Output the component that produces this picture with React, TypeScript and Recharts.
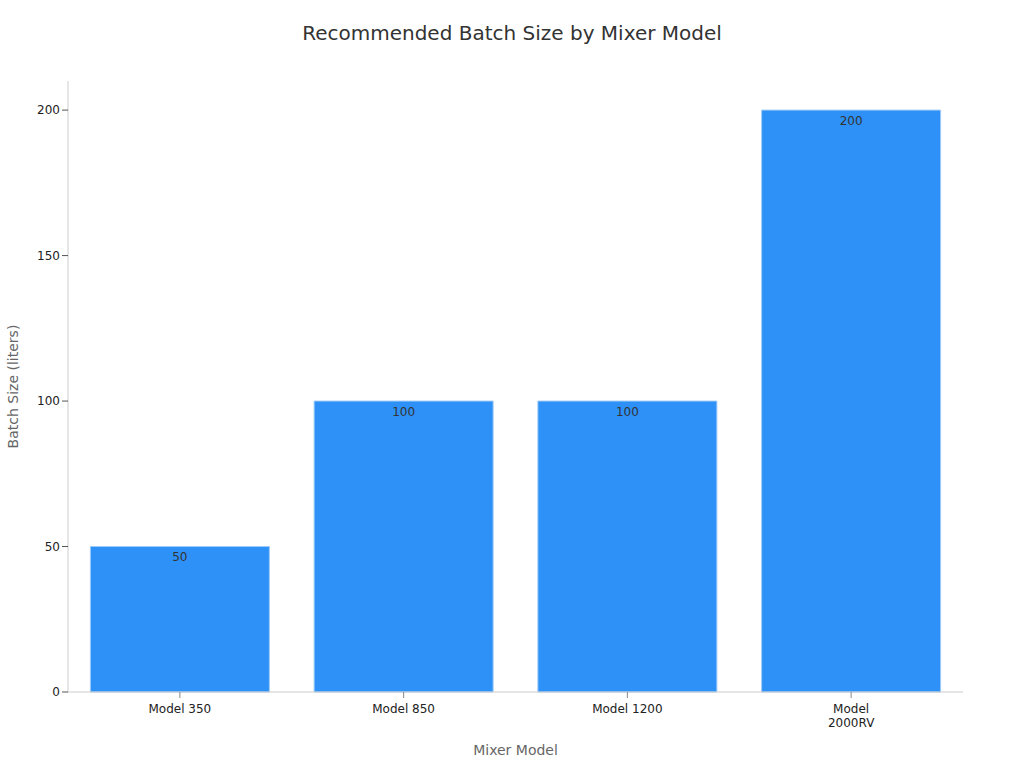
import React from 'react';
import { BarChart, Bar, XAxis, YAxis, LabelList, Label } from 'recharts';

const models = ['Model 350', 'Model 850', 'Model 1200', 'Model 2000RV'];
const batchSizes = [50, 100, 100, 200];
const yTicks = [0, 50, 100, 150, 200];

const data = models.map((name, i) => ({ name, value: batchSizes[i] }));

const FONT = '"DejaVu Sans", sans-serif';

// wraps long category names onto two lines like the reference
const CategoryTick = ({ x, y, payload }: any) => {
  const text: string = payload.value;
  const lines = text.length > 10 ? text.split(' ') : [text];
  return (
    <text x={x} y={y + 4} textAnchor="middle" fill="#222" fontSize={12} fontFamily={FONT}>
      {lines.map((line, i) => (
        <tspan key={i} x={x} dy={i === 0 ? '0.71em' : '1.2em'}>
          {line}
        </tspan>
      ))}
    </text>
  );
};

export default function App() {
  return (
    <div style={{ position: 'absolute', left: 0, top: 0, width: 1024, height: 768, background: '#fff', fontFamily: FONT }}>
      <div
        style={{
          position: 'absolute',
          top: 21,
          left: 0,
          width: 1024,
          textAlign: 'center',
          fontSize: 20,
          color: '#333',
        }}
      >
        Recommended Batch Size by Mixer Model
      </div>
      <BarChart
        width={1024}
        height={768}
        data={data}
        margin={{ top: 81, right: 61, bottom: 6, left: 0 }}
        barCategoryGap="10%"
      >
        <XAxis
          dataKey="name"
          height={70}
          tick={<CategoryTick />}
          tickLine={{ stroke: '#888' }}
          axisLine={{ stroke: '#ccc' }}
        >
          <Label value="Mixer Model" position="insideBottom" offset={7} fill="#666" fontSize={14} fontFamily={FONT} />
        </XAxis>
        <YAxis
          width={68}
          domain={[0, 210]}
          ticks={yTicks}
          tick={{ fill: '#222', fontSize: 12, fontFamily: FONT }}
          tickLine={{ stroke: '#555' }}
          axisLine={{ stroke: '#ccc' }}
        >
          <Label
            value="Batch Size (liters)"
            angle={-90}
            position="insideLeft"
            offset={13}
            fill="#666"
            fontSize={14}
            fontFamily={FONT}
            style={{ textAnchor: 'middle' }}
          />
        </YAxis>
        <Bar dataKey="value" fill="#2e91f7" stroke="#9fcbf7" strokeWidth={1} isAnimationActive={false}>
          <LabelList dataKey="value" position="insideTop" offset={6} fill="#333" fontSize={12} fontFamily={FONT} />
        </Bar>
      </BarChart>
    </div>
  );
}
